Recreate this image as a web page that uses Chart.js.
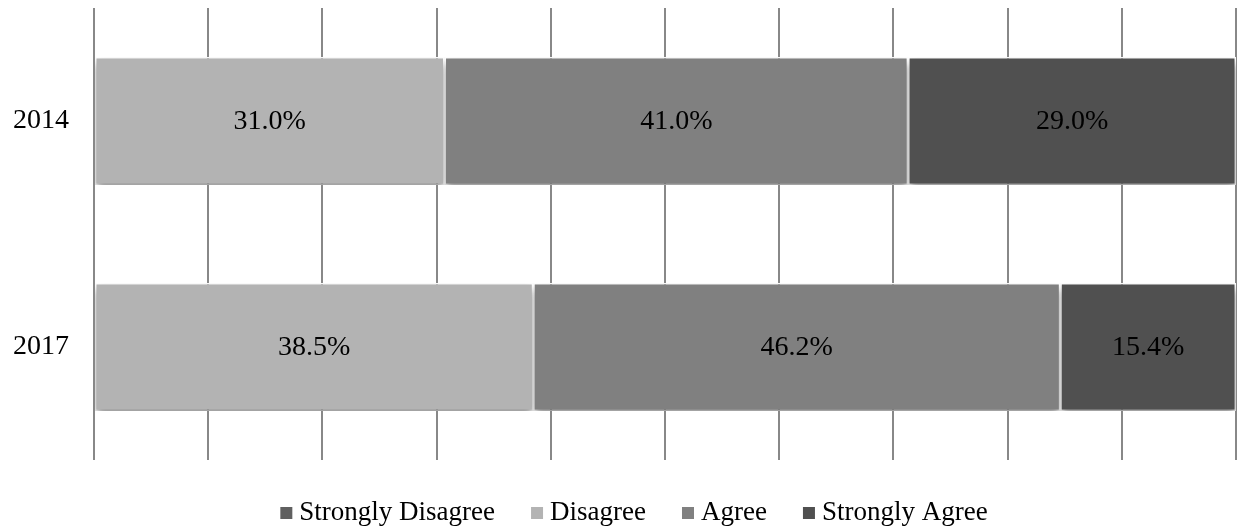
<!DOCTYPE html>
<html>
<head>
<meta charset="utf-8">
<script src="https://cdn.jsdelivr.net/npm/chart.js@4"></script>
<style>
  html, body { margin: 0; padding: 0; background: #fff; }
  #wrap { width: 1237px; height: 531px; }
</style>
</head>
<body>
<div id="wrap"><canvas id="chart" width="1237" height="531"></canvas></div>
<script>
const categories = ['2014', '2017'];
const seriesNames = ['Strongly Disagree', 'Disagree', 'Agree', 'Strongly Agree'];
const stronglyDisagree = [0, 0];
const disagree = [31.0, 38.5];
const agree = [41.0, 46.2];
const stronglyAgree = [29.0, 15.4];
const seriesColors = ['#606060', '#b3b3b3', '#808080', '#505050'];

const rawSeries = [stronglyDisagree, disagree, agree, stronglyAgree];
// 100% stacked: scale each category to its total
const totals = categories.map((c, i) => rawSeries.reduce((s, arr) => s + arr[i], 0));

const FONT = '"Liberation Serif", "Times New Roman", serif';
const FONT_SIZE = 27;

// soft shadow under the bars
const barShadow = {
  id: 'barShadow',
  beforeDatasetsDraw(chart) {
    const ctx = chart.ctx;
    ctx.save();
    ctx.shadowColor = 'rgba(0,0,0,0.45)';
    ctx.shadowBlur = 8;
    ctx.shadowOffsetY = 5;
  },
  afterDatasetsDraw(chart) {
    chart.ctx.restore();
  }
};

// value labels in the middle of each segment
const valueLabels = {
  id: 'valueLabels',
  afterDatasetsDraw(chart) {
    const ctx = chart.ctx;
    ctx.save();
    ctx.font = '28px ' + FONT;
    ctx.fillStyle = '#000';
    ctx.textAlign = 'center';
    ctx.textBaseline = 'middle';
    chart.data.datasets.forEach((ds, di) => {
      const meta = chart.getDatasetMeta(di);
      meta.data.forEach((bar, i) => {
        const raw = ds.raw[i];
        if (!raw) return;
        const p = bar.getProps(['x', 'y', 'base'], true);
        ctx.fillText(raw.toFixed(1) + '%', (p.x + p.base) / 2, p.y + 1);
      });
    });
    ctx.restore();
  }
};

// legend row under the plot (box, small gap, text)
const bottomLegend = {
  id: 'bottomLegend',
  afterDraw(chart) {
    const ctx = chart.ctx;
    const box = 12, gap = 7, spacing = 36;
    ctx.save();
    ctx.font = FONT_SIZE + 'px ' + FONT;
    ctx.textBaseline = 'middle';
    ctx.textAlign = 'left';
    const widths = seriesNames.map(n => ctx.measureText(n).width);
    const total = widths.reduce((s, w) => s + box + gap + w, 0) + spacing * (seriesNames.length - 1);
    let x = 634 - total / 2;
    const y = 513;
    seriesNames.forEach((name, k) => {
      ctx.fillStyle = seriesColors[k];
      ctx.fillRect(x, y - box / 2, box, box);
      ctx.fillStyle = '#000';
      ctx.fillText(name, x + box + gap, y);
      x += box + gap + widths[k] + spacing;
    });
    ctx.restore();
  }
};

new Chart(document.getElementById('chart'), {
  type: 'bar',
  data: {
    labels: categories,
    datasets: rawSeries.map((arr, k) => ({
      label: seriesNames[k],
      raw: arr,
      data: arr.map((v, i) => v / totals[i] * 100),
      backgroundColor: seriesColors[k],
      borderColor: '#ffffff',
      borderWidth: arr.some(v => v > 0) ? 1.5 : 0,
      borderSkipped: false,
      categoryPercentage: 1,
      barPercentage: 0.566
    }))
  },
  options: {
    indexAxis: 'y',
    responsive: false,
    animation: false,
    layout: { padding: { top: 8, right: 1, left: 0, bottom: 71 } },
    scales: {
      x: {
        stacked: true,
        min: 0,
        max: 100,
        ticks: { display: false, stepSize: 10 },
        grid: { color: '#888888', lineWidth: 2, drawTicks: false },
        border: { display: false },
        afterFit(scale) { scale.height = 0; scale.paddingLeft = 0; scale.paddingRight = 0; }
      },
      y: {
        stacked: true,
        grid: { display: false },
        border: { display: false },
        ticks: { color: '#000', font: { family: FONT, size: 28 }, padding: 17 },
        afterFit(scale) { scale.width = 94; scale.paddingTop = 0; scale.paddingBottom = 0; }
      }
    },
    plugins: {
      legend: { display: false },
      tooltip: { enabled: false }
    }
  },
  plugins: [barShadow, valueLabels, bottomLegend]
});
</script>
</body>
</html>
